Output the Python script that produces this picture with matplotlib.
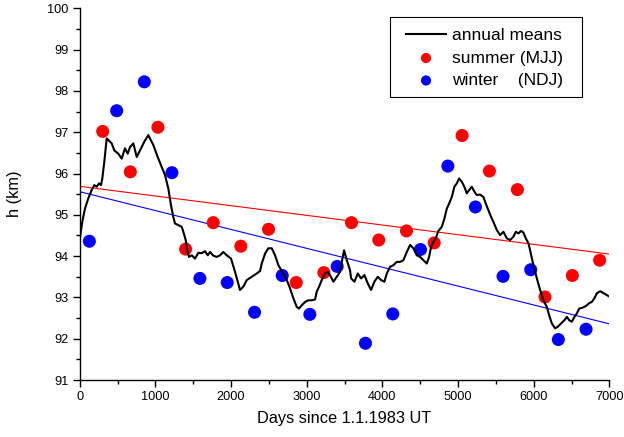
import numpy as np
import matplotlib
matplotlib.use('Agg')
import matplotlib.pyplot as plt
from matplotlib.patches import Rectangle

plt.rcParams['font.family'] = ['Liberation Sans', 'DejaVu Sans']

# summer (MJJ) means
summer_days = [304, 669, 1034, 1400, 1765, 2130, 2496, 2862, 3227, 3592,
               3953, 4319, 4685, 5054, 5415, 5785, 6150, 6511, 6872]
summer_h = [97.02, 96.04, 97.12, 94.17, 94.81, 94.24, 94.65, 93.36, 93.60, 94.81,
            94.39, 94.61, 94.32, 96.92, 96.06, 95.61, 93.01, 93.53, 93.90]

# winter (NDJ) means
winter_days = [128, 489, 854, 1219, 1589, 1950, 2311, 2677, 3042, 3403,
               3777, 4138, 4504, 4866, 5230, 5595, 5961, 6326, 6692]
winter_h = [94.36, 97.52, 98.22, 96.02, 93.46, 93.36, 92.64, 93.53, 92.59, 93.75,
            91.89, 92.60, 94.16, 96.18, 95.19, 93.51, 93.67, 91.98, 92.23]

# linear trends (end points)
trend_days = [0, 7000]
summer_trend = [95.69, 94.05]
winter_trend = [95.56, 92.36]

# annual running mean
annual_days = [0, 34, 70, 114, 159, 193, 225, 255, 282, 299, 325, 357, 378, 401, 423,
               457, 510, 555, 599, 635, 665, 709, 754, 797, 854, 907, 973, 1031, 1084,
               1128, 1171, 1207, 1237, 1260, 1303, 1348, 1370, 1401, 1428, 1445, 1481,
               1524, 1568, 1613, 1656, 1692, 1723, 1766, 1811, 1855, 1898, 1943, 2000,
               2053, 2089, 2119, 2163, 2208, 2274, 2340, 2384, 2406, 2450, 2493, 2538,
               2582, 2626, 2678, 2737, 2780, 2824, 2869, 2899, 2935, 2979, 3022, 3067,
               3111, 3133, 3164, 3199, 3243, 3279, 3309, 3353, 3398, 3441, 3472, 3494,
               3530, 3573, 3587, 3631, 3675, 3719, 3763, 3807, 3851, 3895, 3940, 3983,
               4027, 4059, 4102, 4146, 4191, 4234, 4278, 4323, 4367, 4410, 4455, 4499,
               4542, 4587, 4618, 4644, 4675, 4706, 4741, 4786, 4820, 4852, 4882, 4918,
               4952, 4984, 5014, 5050, 5084, 5116, 5147, 5182, 5217, 5248, 5292, 5336,
               5367, 5402, 5437, 5468, 5513, 5556, 5600, 5645, 5689, 5732, 5764, 5798,
               5834, 5864, 5896, 5931, 5953, 5997, 6042, 6085, 6129, 6174, 6204, 6240,
               6284, 6319, 6363, 6407, 6438, 6469, 6504, 6539, 6570, 6601, 6644, 6689,
               6733, 6768, 6803, 6835, 6879, 6918, 6963, 7000]
annual_h = [94.40, 94.83, 95.15, 95.40, 95.60, 95.72, 95.68, 95.76, 95.72, 95.88, 96.28,
            96.85, 96.81, 96.77, 96.73, 96.56, 96.48, 96.36, 96.61, 96.48, 96.64, 96.73,
            96.40, 96.56, 96.77, 96.93, 96.69, 96.40, 96.16, 95.96, 95.64, 95.23, 94.95,
            94.79, 94.75, 94.71, 94.59, 94.39, 94.10, 93.98, 94.02, 93.94, 94.08, 94.07,
            94.12, 94.02, 94.10, 94.01, 93.98, 94.02, 94.10, 94.02, 93.94, 93.62, 93.38,
            93.18, 93.26, 93.42, 93.50, 93.58, 93.64, 93.82, 94.06, 94.19, 94.19, 94.02,
            93.78, 93.62, 93.42, 93.22, 92.98, 92.77, 92.73, 92.81, 92.89, 92.93, 92.93,
            92.95, 93.14, 93.26, 93.42, 93.58, 93.62, 93.54, 93.38, 93.50, 93.62, 93.94,
            94.14, 93.90, 93.66, 93.46, 93.38, 93.58, 93.46, 93.54, 93.34, 93.18, 93.38,
            93.50, 93.42, 93.38, 93.58, 93.74, 93.78, 93.86, 93.86, 93.90, 94.10, 94.27,
            94.19, 94.02, 93.98, 93.90, 93.82, 93.98, 94.22, 94.35, 94.43, 94.61, 94.71,
            94.91, 95.15, 95.27, 95.43, 95.68, 95.76, 95.88, 95.80, 95.68, 95.52, 95.60,
            95.68, 95.56, 95.48, 95.49, 95.43, 95.27, 95.11, 94.95, 94.83, 94.63, 94.51,
            94.59, 94.43, 94.39, 94.47, 94.59, 94.55, 94.61, 94.57, 94.43, 94.31, 94.14,
            93.78, 93.46, 93.18, 92.93, 92.77, 92.57, 92.37, 92.25, 92.29, 92.37, 92.45,
            92.53, 92.45, 92.41, 92.53, 92.61, 92.73, 92.75, 92.79, 92.86, 92.89, 92.98,
            93.10, 93.15, 93.11, 93.06, 93.02]

fig = plt.figure(figsize=(6.24, 4.37), dpi=100)
ax = fig.add_axes([0.1277, 0.1304, 0.8488, 0.8506])

ax.plot(trend_days, summer_trend, color='red', lw=0.8, zorder=1)
ax.plot(trend_days, winter_trend, color='blue', lw=0.8, zorder=1)
ax.scatter(summer_days, summer_h, s=88, color='red', edgecolors='none', zorder=2,
           label='summer (MJJ)')
ax.scatter(winter_days, winter_h, s=88, color='blue', edgecolors='none', zorder=2,
           label='winter    (NDJ)')
ax.plot(annual_days, annual_h, color='black', lw=1.5, zorder=3, label='annual means')

ax.set_xlim(0, 7000)
ax.set_ylim(91, 100)
ax.set_xticks(np.arange(0, 7001, 1000))
ax.set_xticks(np.arange(500, 7000, 1000), minor=True)
ax.set_yticks(np.arange(91, 101, 1))
ax.set_yticks(np.arange(91.5, 100, 1), minor=True)
ax.tick_params(which='major', length=5, width=1, labelsize=9.2, pad=3)
ax.tick_params(which='minor', length=3, width=1)
ax.spines['top'].set_visible(False)
ax.spines['right'].set_visible(False)
ax.spines['left'].set_linewidth(1)
ax.spines['bottom'].set_linewidth(1)

ax.set_xlabel('Days since 1.1.1983 UT', fontsize=11.8, labelpad=6)
ax.set_ylabel('h (km)', fontsize=11.8, labelpad=18)

# legend: entries without frame, box drawn separately
handles, labels = ax.get_legend_handles_labels()
order = [2, 0, 1]
leg = ax.legend([handles[i] for i in order], [labels[i] for i in order],
                loc='upper right', bbox_to_anchor=(0.9126, 0.947), borderaxespad=0,
                frameon=False, fontsize=12.5, markerscale=0.78,
                handlelength=2.3, handletextpad=0.35, labelspacing=0.42, borderpad=0)
ax.add_patch(Rectangle((0.5859, 0.7622), 0.9485 - 0.5859, 0.9774 - 0.7622,
                       transform=ax.transAxes, fill=False, edgecolor='black',
                       lw=0.8, zorder=5, clip_on=False))

fig.savefig('out.png', dpi=100)
